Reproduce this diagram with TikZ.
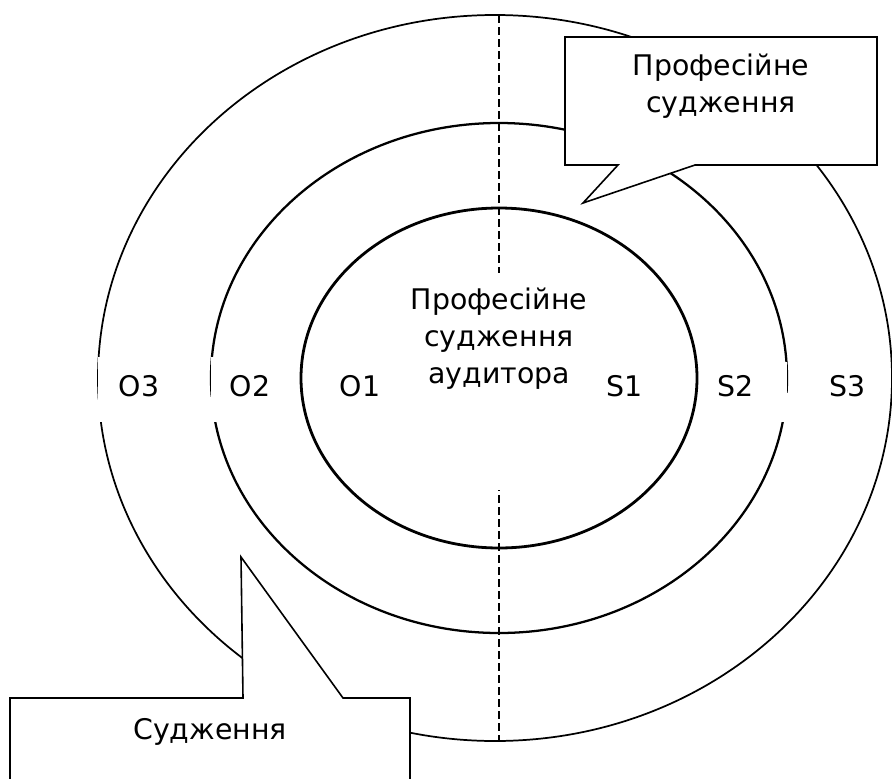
\documentclass[tikz,border=0pt]{standalone}
\usepackage{fontspec}
\setmainfont{DejaVu Sans}
\begin{document}
\begin{tikzpicture}[x=0.75pt,y=-0.75pt,
  ring/.style={draw=black},
  label/.style={font=\fontsize{21.3}{27.4}\selectfont, inner sep=0pt, anchor=base},
  callout/.style={draw=black, fill=white, line width=1.2pt, line join=miter},
  divider/.style={draw=black, line width=1.3pt, dash pattern=on 6pt off 3pt}]
\clip (0,0) rectangle (892,778);

% vertical divider
\coordinate (dtop) at (499,15);
\coordinate (dbot) at (499,740);
\draw[divider] (dtop) -- (dbot);
% clear the divider behind the central caption
\fill[white] (343,273) rectangle (653,490);

% the three rings
\draw[ring, line width=1.3pt] (495,378) ellipse [x radius=397, y radius=363];
\draw[ring, line width=1.7pt] (499,378) ellipse [x radius=288, y radius=255];
\draw[ring, line width=2.1pt] (499,378) ellipse [x radius=198, y radius=170];

% openings in the rings beside the labels
\fill[white] (98.4,357) rectangle (118,400);
\fill[white] (90,400) rectangle (118,422);
\fill[white] (211.3,357) rectangle (226,397);
\fill[white] (200,397) rectangle (226,422);
\fill[white] (770,362) rectangle (786.6,393);
\fill[white] (770,393) rectangle (800,422);

% ring labels
\node[label] (o3) at (139,396) {O3};
\node[label] (o2) at (250,396) {O2};
\node[label] (o1) at (360,396) {O1};
\node[label] (s1) at (625,396) {S1};
\node[label] (s2) at (736,396) {S2};
\node[label] (s3) at (848,396) {S3};

% central caption (base anchor sits on the last line)
\node[label, align=center] (core) at (499,383)
  {Професійне\\судження\\аудитора};

% upper callout
\draw[callout] (565,37) -- (877,37) -- (877,165) -- (695,165) -- (583,203)
  -- (618,165) -- (565,165) -- cycle;
\node[label, align=center] (prof) at (721,112) {Професійне\\судження};

% lower callout
\draw[callout] (10,698) -- (243,698) -- (241,557) -- (343,698) -- (410,698)
  -- (410,800) -- (10,800) -- cycle;
\node[label] (judg) at (210,739) {Судження};
\end{tikzpicture}
\end{document}
